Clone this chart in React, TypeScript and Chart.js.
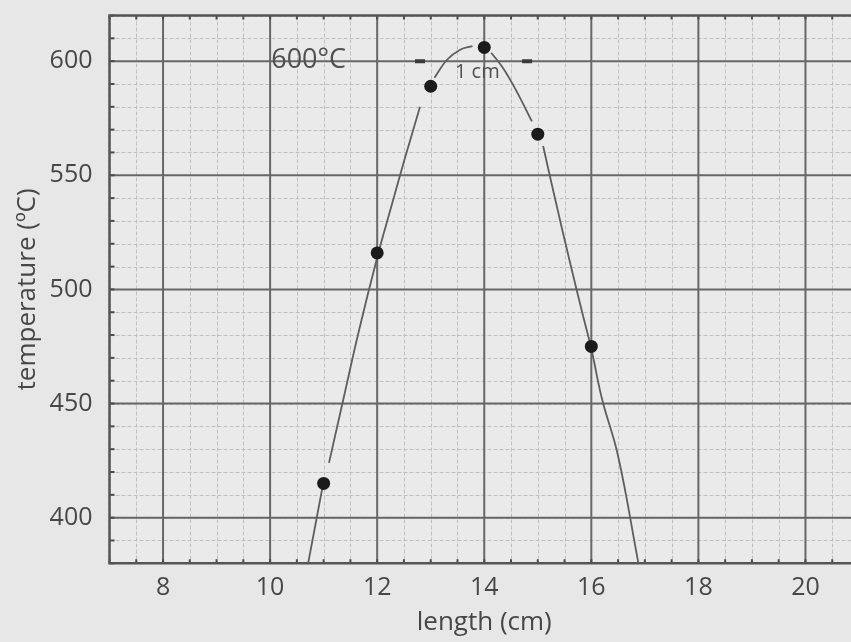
import React, { useEffect, useRef } from 'react';
import { Chart, registerables } from 'chart.js';

Chart.register(...registerables);

// measured points
const measuredLength = [11, 12, 13, 14, 15, 16];
const measuredTemp = [415, 516, 589, 606, 568, 475];

// hand-drawn fitted curve (null = break in the pen stroke)
const curveLength = [10.71, 11.0, null, 11.1, 11.36, 11.65, 12.0, 12.26, 12.5, 12.8, null, 13.07, 13.3, 13.55, 13.78, null, 14.13, 14.35, 14.6, 14.89, null, 15.1, 15.31, 15.6, 15.85, 16.0, 16.2, 16.5, 16.88];
const curveTemp = [380, 416, null, 424, 451, 481, 514, 536, 556, 580, null, 592.7, 600.5, 605, 606.6, null, 603.7, 597, 587, 573.6, null, 562.8, 541, 512, 488, 474, 452, 427, 380];

// "1 cm" width markers on the 600 °C line
const markerLength = [12.8, 14.8];
const markerTemp = [600, 600];

// annotations
const noteText = ['600°C', '1 cm'];
const noteLength = [10.72, 13.87];
const noteTemp = [600.5, 595];

// axes
const xTicks = [8, 10, 12, 14, 16, 18, 20];
const yTicks = [400, 450, 500, 550, 600];
const xRange = [7, 21];
const yRange = [380, 620];

const BG = '#e7e7e7';
const TEXT = '#474747';
const FONT = '"Open Sans", "Noto Sans", sans-serif';
const CANVAS_W = 859;
const CANVAS_H = 642;

const zeroPad = (s: any) => {
  s.paddingTop = 0;
  s.paddingBottom = 0;
  s.paddingLeft = 0;
  s.paddingRight = 0;
};

const gridPlugin = {
  id: 'paperGrid',
  beforeDraw(chart: any) {
    const { ctx, width, height } = chart;
    ctx.save();
    ctx.fillStyle = BG;
    ctx.fillRect(0, 0, width, height);
    ctx.restore();
  },
  beforeDatasetsDraw(chart: any) {
    const { ctx, chartArea: a, scales } = chart;
    const xs = scales.x;
    const ys = scales.y;
    ctx.save();
    ctx.fillStyle = '#eaeaea';
    ctx.fillRect(a.left, a.top, a.right - a.left, a.bottom - a.top);

    // minor lines
    ctx.strokeStyle = '#c0c0c0';
    ctx.lineWidth = 1;
    ctx.setLineDash([4, 2]);
    for (let v = xRange[0]; v <= xRange[1] + 1e-9; v += 0.5) {
      const px = Math.round(xs.getPixelForValue(v)) + 0.5;
      ctx.beginPath();
      ctx.moveTo(px, a.top);
      ctx.lineTo(px, a.bottom);
      ctx.stroke();
    }
    for (let v = yRange[0]; v <= yRange[1] + 1e-9; v += 10) {
      const py = Math.round(ys.getPixelForValue(v)) + 0.5;
      ctx.beginPath();
      ctx.moveTo(a.left, py);
      ctx.lineTo(a.right, py);
      ctx.stroke();
    }
    ctx.setLineDash([]);

    // major lines
    ctx.strokeStyle = '#676767';
    ctx.lineWidth = 2;
    for (let v = 8; v <= xRange[1]; v += 2) {
      const px = xs.getPixelForValue(v);
      ctx.beginPath();
      ctx.moveTo(px, a.top);
      ctx.lineTo(px, a.bottom);
      ctx.stroke();
    }
    for (let v = 400; v <= yRange[1]; v += 50) {
      const py = ys.getPixelForValue(v);
      ctx.beginPath();
      ctx.moveTo(a.left, py);
      ctx.lineTo(a.right, py);
      ctx.stroke();
    }

    // small tick marks
    ctx.strokeStyle = '#4a4a4a';
    ctx.lineWidth = 2;
    for (let v = xRange[0]; v <= xRange[1] + 1e-9; v += 0.5) {
      const px = xs.getPixelForValue(v);
      ctx.beginPath();
      ctx.moveTo(px, a.bottom);
      ctx.lineTo(px, a.bottom - 4);
      ctx.moveTo(px, a.top);
      ctx.lineTo(px, a.top + 4);
      ctx.stroke();
    }
    for (let v = yRange[0]; v <= yRange[1] + 1e-9; v += 10) {
      const py = ys.getPixelForValue(v);
      ctx.beginPath();
      ctx.moveTo(a.left, py);
      ctx.lineTo(a.left + 5, py);
      ctx.stroke();
    }

    // frame (left, top, bottom)
    ctx.strokeStyle = '#555555';
    ctx.lineWidth = 2.5;
    ctx.beginPath();
    ctx.moveTo(a.right + 10, a.top);
    ctx.lineTo(a.left, a.top);
    ctx.lineTo(a.left, a.bottom);
    ctx.lineTo(a.right + 10, a.bottom);
    ctx.stroke();

    // annotations
    ctx.fillStyle = '#505050';
    ctx.textAlign = 'center';
    ctx.textBaseline = 'middle';
    noteText.forEach((t, i) => {
      ctx.font = `${i === 0 ? 27 : 20}px ${FONT}`;
      ctx.fillText(t, xs.getPixelForValue(noteLength[i]), ys.getPixelForValue(noteTemp[i]));
    });
    ctx.restore();
  },
};

export default function App() {
  const ref = useRef<HTMLCanvasElement>(null);

  useEffect(() => {
    document.body.style.margin = '0';
    document.body.style.background = BG;
    document.body.style.overflow = 'hidden';

    const curveData: any[] = [];
    let prev = curveLength[0] as number;
    curveLength.forEach((x, i) => {
      if (x === null || curveTemp[i] === null) {
        curveData.push({ x: prev, y: null });
      } else {
        prev = x;
        curveData.push({ x, y: curveTemp[i] });
      }
    });

    const chart = new Chart(ref.current as HTMLCanvasElement, {
      type: 'scatter',
      data: {
        datasets: [
          {
            type: 'line',
            data: curveData,
            borderColor: '#5e5e5e',
            borderWidth: 1.8,
            pointRadius: 0,
            tension: 0.4,
            spanGaps: false,
            order: 3,
          } as any,
          {
            data: measuredLength.map((x, i) => ({ x, y: measuredTemp[i] })),
            pointRadius: 6.5,
            backgroundColor: '#1b1b1b',
            borderWidth: 0,
            order: 1,
          },
          {
            data: markerLength.map((x, i) => ({ x, y: markerTemp[i] })),
            pointStyle: 'line',
            pointRadius: 5,
            borderWidth: 4,
            borderColor: '#3a3a3a',
            order: 2,
          },
        ],
      },
      options: {
        responsive: false,
        maintainAspectRatio: false,
        animation: false,
        layout: { autoPadding: false, padding: { top: 15.5, right: 0, left: 0, bottom: 0 } },
        plugins: { legend: { display: false }, tooltip: { enabled: false } },
        scales: {
          x: {
            type: 'linear',
            min: xRange[0],
            max: xRange[1],
            grid: { display: false, drawTicks: false },
            border: { display: false },
            afterBuildTicks: (s: any) => {
              s.ticks = xTicks.map((v) => ({ value: v }));
            },
            afterFit: (s: any) => {
              s.height = 78.7;
              zeroPad(s);
            },
            ticks: {
              padding: 10,
              color: TEXT,
              font: { family: FONT, size: 25 },
              callback: (v: any) => String(v),
            },
            title: {
              display: true,
              text: 'length (cm)',
              color: TEXT,
              font: { family: FONT, size: 26 },
              padding: { top: 0, bottom: 4 },
            },
          },
          y: {
            type: 'linear',
            min: yRange[0],
            max: yRange[1],
            grid: { display: false, drawTicks: false },
            border: { display: false },
            afterBuildTicks: (s: any) => {
              s.ticks = yTicks.map((v) => ({ value: v }));
            },
            afterFit: (s: any) => {
              s.width = 109.5;
              zeroPad(s);
            },
            ticks: {
              padding: 17,
              color: TEXT,
              font: { family: FONT, size: 25 },
              callback: (v: any) => String(v),
            },
            title: {
              display: true,
              text: 'temperature (ºC)',
              color: TEXT,
              font: { family: FONT, size: 26 },
              padding: { top: 12, bottom: 0 },
            },
          },
        },
      },
      plugins: [gridPlugin],
    });
    return () => chart.destroy();
  }, []);

  return (
    <div style={{ position: 'fixed', left: 0, top: 0, width: 851, height: 642, background: BG, overflow: 'hidden' }}>
      <div style={{ position: 'absolute', left: 0, top: 0, width: CANVAS_W, height: CANVAS_H }}>
        <canvas ref={ref} width={CANVAS_W} height={CANVAS_H} style={{ display: 'block', width: CANVAS_W, height: CANVAS_H }} />
      </div>
    </div>
  );
}
